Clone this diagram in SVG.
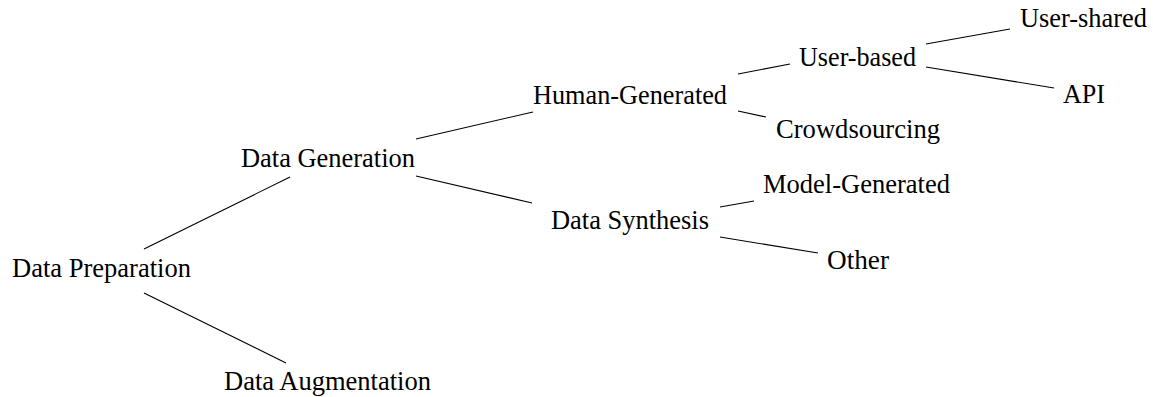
<svg xmlns="http://www.w3.org/2000/svg" width="1153" height="397" viewBox="0 0 1153 397">
<style>
text { font-family: "Liberation Serif", "Times New Roman", serif; font-size: 26.5px; fill: #000; }
.edge { stroke: #000; stroke-width: 1.1; fill: none; }
</style>
<rect width="1153" height="397" fill="#fff"/>
<g id="connectors">
<line class="edge" x1="144" y1="249" x2="290" y2="177"/>
<line class="edge" x1="144" y1="293" x2="286" y2="363"/>
<line class="edge" x1="416" y1="139" x2="533" y2="112"/>
<line class="edge" x1="416" y1="176" x2="532" y2="203"/>
<line class="edge" x1="738" y1="74" x2="790" y2="64"/>
<line class="edge" x1="738" y1="111" x2="766" y2="117"/>
<line class="edge" x1="926" y1="44" x2="1010" y2="29"/>
<line class="edge" x1="926" y1="67" x2="1054" y2="88"/>
<line class="edge" x1="720" y1="207" x2="754" y2="201"/>
<line class="edge" x1="720" y1="237" x2="818" y2="253"/>
</g>
<g id="n-prep"><text x="12" y="277" textLength="179" lengthAdjust="spacingAndGlyphs">Data Preparation</text></g>
<g id="n-gen"><text x="241" y="167" textLength="174" lengthAdjust="spacingAndGlyphs">Data Generation</text></g>
<g id="n-aug"><text x="224" y="390" textLength="207" lengthAdjust="spacingAndGlyphs">Data Augmentation</text></g>
<g id="n-human"><text x="533" y="104" textLength="194" lengthAdjust="spacingAndGlyphs">Human-Generated</text></g>
<g id="n-synth"><text x="551" y="229" textLength="158" lengthAdjust="spacingAndGlyphs">Data Synthesis</text></g>
<g id="n-userbased"><text x="799" y="66" textLength="117" lengthAdjust="spacingAndGlyphs">User-based</text></g>
<g id="n-crowd"><text x="776" y="138" textLength="164" lengthAdjust="spacingAndGlyphs">Crowdsourcing</text></g>
<g id="n-usershared"><text x="1020" y="27" textLength="127" lengthAdjust="spacingAndGlyphs">User-shared</text></g>
<g id="n-api"><text x="1063" y="103" textLength="42" lengthAdjust="spacingAndGlyphs">API</text></g>
<g id="n-model"><text x="763" y="193" textLength="187" lengthAdjust="spacingAndGlyphs">Model-Generated</text></g>
<g id="n-other"><text x="827" y="269" textLength="62" lengthAdjust="spacingAndGlyphs">Other</text></g>
</svg>
